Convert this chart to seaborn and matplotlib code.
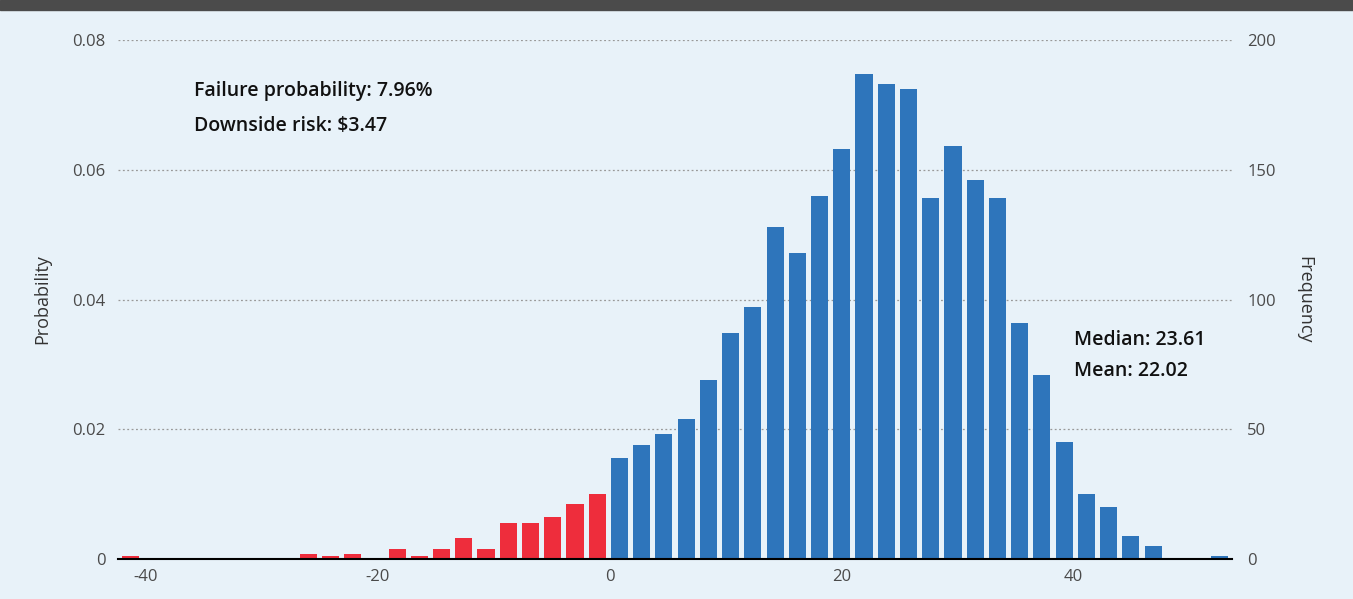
import numpy as np
import pandas as pd
import matplotlib
matplotlib.use("Agg")
import matplotlib.pyplot as plt
from matplotlib.patches import Rectangle
from matplotlib.ticker import FuncFormatter
import seaborn as sns

# histogram bins (50 bins across the simulated range)
bin_lo, bin_hi, n_bins = -42.3, 53.6, 50

# counts per bin: loss side (red) then profit side (blue)
fail_counts = [1, 0, 0, 0, 0, 0, 0, 0, 2, 1, 2, 0, 4, 1, 4, 8, 4, 14, 14, 16, 21, 25]
ok_counts = [39, 44, 48, 54, 69, 87, 97, 128, 118, 140, 158, 187, 183, 181, 139,
             159, 146, 139, 91, 71, 45, 25, 20, 9, 5, 0, 0, 1]

n_sims = 2500
x_ticks = [-40, -20, 0, 20, 40]
freq_ticks = [0, 50, 100, 150, 200]
prob_ticks = [0, 0.02, 0.04, 0.06, 0.08]

stats_left = ["Failure probability: 7.96%", "Downside risk: $3.47"]
stats_right = ["Median: 23.61", "Mean: 22.02"]

BG = "#e8f2f9"
BLUE = "#2e75bb"
RED = "#ee2d3c"

sns.set_theme(style="white")
plt.rcParams["font.family"] = ["Open Sans", "DejaVu Sans"]
plt.rcParams["axes.unicode_minus"] = False

edges = np.linspace(bin_lo, bin_hi, n_bins + 1)
centers = (edges[:-1] + edges[1:]) / 2
n_fail = len(fail_counts)
df = pd.DataFrame({
    "value": centers,
    "count": fail_counts + ok_counts,
    "side": ["fail"] * n_fail + ["ok"] * len(ok_counts),
})

fig = plt.figure(figsize=(13.53, 5.99), dpi=100, facecolor=BG)
ax = fig.add_axes([0.0872, 0.0668, 0.8234, 0.8664])
ax.set_facecolor(BG)

sns.histplot(data=df, x="value", weights="count", hue="side",
             palette={"fail": RED, "ok": BLUE}, bins=n_bins,
             binrange=(bin_lo, bin_hi), shrink=0.77, alpha=1, linewidth=0,
             multiple="layer", legend=False, ax=ax)

# probability axis sits on the left, frequency on the right
ax2 = ax.twinx()
ax2.set_ylim(0, 200 / n_sims)
ax2.set_yticks(prob_ticks)
ax2.yaxis.tick_left()
ax2.yaxis.set_label_position("left")
ax2.yaxis.set_major_formatter(FuncFormatter(lambda v, p: "0" if v == 0 else f"{v:.2f}"))
ax2.set_ylabel("Probability", labelpad=15, fontsize=13, color="#333333")
ax2.tick_params(axis="y", length=0, labelsize=12, labelcolor="#4a4a4a", pad=9)
for s in ["top", "left", "right", "bottom"]:
    ax2.spines[s].set_visible(False)

ax.set_xlim(-42.4, 53.7)
ax.set_ylim(0, 200)
ax.set_xticks(x_ticks)
ax.set_yticks(freq_ticks)
ax.yaxis.tick_right()
ax.yaxis.set_label_position("right")
ax.set_ylabel("Frequency", rotation=270, labelpad=27, fontsize=13, color="#333333")
ax.set_xlabel("")
ax.grid(axis="y", color="#999999", linestyle=(0, (1.5, 2)), linewidth=0.9)
ax.set_axisbelow(True)
ax.tick_params(axis="both", length=0, labelsize=12, labelcolor="#4a4a4a")
ax.tick_params(axis="y", pad=11)
ax.tick_params(axis="x", pad=7)
for s in ["top", "left", "right"]:
    ax.spines[s].set_visible(False)
ax.spines["bottom"].set_color("black")
ax.spines["bottom"].set_linewidth(1.5)

for i, t in enumerate(stats_left):
    ax.text(0.068, 0.902 - i * 0.068, t, transform=ax.transAxes, fontsize=14,
            fontweight="semibold", color="#111111", va="center", ha="left")
for i, t in enumerate(stats_right):
    ax.text(0.858, 0.422 - i * 0.06, t, transform=ax.transAxes, fontsize=14,
            fontweight="semibold", color="#111111", va="center", ha="left")

fig.add_artist(Rectangle((0, 0.983), 1, 0.017, transform=fig.transFigure,
                         color="#4b4b4b", zorder=5))

fig.savefig("out.png", dpi=100, facecolor=BG)
